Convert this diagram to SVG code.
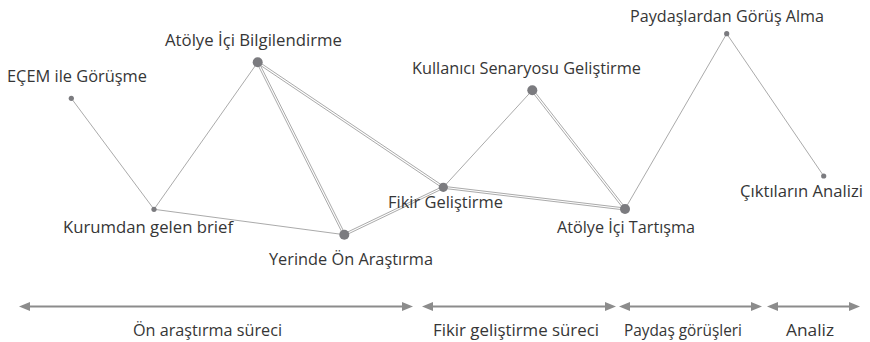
<svg xmlns="http://www.w3.org/2000/svg" width="870" height="342" viewBox="0 0 870 342">
<style>
.bg{fill:#ffffff}
.edge{stroke:#a0a0a0;stroke-width:0.9;fill:none}
.node{fill:#7b7b7f}
.lbl{font-family:"Open Sans","Noto Sans","DejaVu Sans",sans-serif;font-size:15.6px;fill:#363636}
.phase{font-family:"Open Sans","Noto Sans","DejaVu Sans",sans-serif;font-size:16.5px;fill:#363636;text-anchor:start}
.span{stroke:#8c8c8c;stroke-width:2.2;fill:none;marker-start:url(#ah);marker-end:url(#ah)}
</style>
<defs>
<marker id="ah" markerUnits="userSpaceOnUse" markerWidth="11" markerHeight="9" refX="6" refY="4.5" orient="auto-start-reverse">
<path d="M0,0 L11,4.5 L0,9 Z" fill="#8c8c8c"/>
</marker>
</defs>
<rect class="bg" x="0" y="0" width="870" height="342"/>
<g id="connectors">
<line class="edge" x1="71.3" y1="98.3" x2="154" y2="209.3"/>
<line class="edge" x1="154" y1="209.3" x2="257.7" y2="62.3"/>
<line class="edge" x1="154" y1="209.3" x2="344.3" y2="234.7"/>
<line class="edge" x1="256.8" y1="62.7" x2="343.4" y2="235.1"/>
<line class="edge" x1="258.6" y1="61.9" x2="345.2" y2="234.3"/>
<line class="edge" x1="257.1" y1="63.1" x2="442.7" y2="188.1"/>
<line class="edge" x1="258.3" y1="61.5" x2="443.9" y2="186.5"/>
<line class="edge" x1="344.7" y1="235.6" x2="443.7" y2="188.2"/>
<line class="edge" x1="343.9" y1="233.8" x2="442.9" y2="186.4"/>
<line class="edge" x1="443.3" y1="187.3" x2="532.3" y2="90.3"/>
<line class="edge" x1="531.5" y1="90.9" x2="624.2" y2="209.6"/>
<line class="edge" x1="533.1" y1="89.7" x2="625.8" y2="208.4"/>
<line class="edge" x1="443.2" y1="188.3" x2="624.9" y2="210"/>
<line class="edge" x1="443.4" y1="186.3" x2="625.1" y2="208"/>
<line class="edge" x1="625" y1="209" x2="726.7" y2="33.7"/>
<line class="edge" x1="726.7" y1="33.7" x2="823.7" y2="176"/>
</g>
<g id="n-ecem">
<circle class="node" cx="71.3" cy="98.3" r="2.6"/>
<text class="lbl" x="7" y="82" textLength="140" lengthAdjust="spacingAndGlyphs">EÇEM ile Görüşme</text>
</g>
<g id="n-kurumdan">
<circle class="node" cx="154" cy="209.3" r="2.6"/>
<text class="lbl" x="63" y="232.5" textLength="170" lengthAdjust="spacingAndGlyphs">Kurumdan gelen brief</text>
</g>
<g id="n-bilgilendirme">
<circle class="node" cx="257.7" cy="62.3" r="5"/>
<text class="lbl" x="165" y="46" textLength="177" lengthAdjust="spacingAndGlyphs">Atölye İçi Bilgilendirme</text>
</g>
<g id="n-yerinde">
<circle class="node" cx="344.3" cy="234.7" r="5"/>
<text class="lbl" x="269" y="265" textLength="164" lengthAdjust="spacingAndGlyphs">Yerinde Ön Araştırma</text>
</g>
<g id="n-fikir">
<circle class="node" cx="443.3" cy="187.3" r="4.6"/>
<text class="lbl" x="388" y="208" textLength="115" lengthAdjust="spacingAndGlyphs">Fikir Geliştirme</text>
</g>
<g id="n-kullanici">
<circle class="node" cx="532.3" cy="90.3" r="5"/>
<text class="lbl" x="412" y="74" textLength="229" lengthAdjust="spacingAndGlyphs">Kullanıcı Senaryosu Geliştirme</text>
</g>
<g id="n-tartisma">
<circle class="node" cx="625" cy="209" r="5"/>
<text class="lbl" x="557" y="233" textLength="138" lengthAdjust="spacingAndGlyphs">Atölye İçi Tartışma</text>
</g>
<g id="n-paydas">
<circle class="node" cx="726.7" cy="33.7" r="2.6"/>
<text class="lbl" x="630" y="21.5" textLength="194" lengthAdjust="spacingAndGlyphs">Paydaşlardan Görüş Alma</text>
</g>
<g id="n-cikti">
<circle class="node" cx="823.7" cy="176" r="2.6"/>
<text class="lbl" x="740" y="197" textLength="123" lengthAdjust="spacingAndGlyphs">Çıktıların Analizi</text>
</g>
<g id="phases">
<line class="span" x1="24" y1="306.5" x2="408" y2="306.5"/>
<line class="span" x1="427" y1="306.5" x2="611" y2="306.5"/>
<line class="span" x1="624" y1="306.5" x2="757" y2="306.5"/>
<line class="span" x1="772" y1="306.5" x2="855" y2="306.5"/>
<text class="phase" x="133" y="336" textLength="149" lengthAdjust="spacingAndGlyphs">Ön araştırma süreci</text>
<text class="phase" x="433" y="336" textLength="166" lengthAdjust="spacingAndGlyphs">Fikir geliştirme süreci</text>
<text class="phase" x="624" y="336" textLength="118" lengthAdjust="spacingAndGlyphs">Paydaş görüşleri</text>
<text class="phase" x="786" y="336" textLength="48" lengthAdjust="spacingAndGlyphs">Analiz</text>
</g>
</svg>
